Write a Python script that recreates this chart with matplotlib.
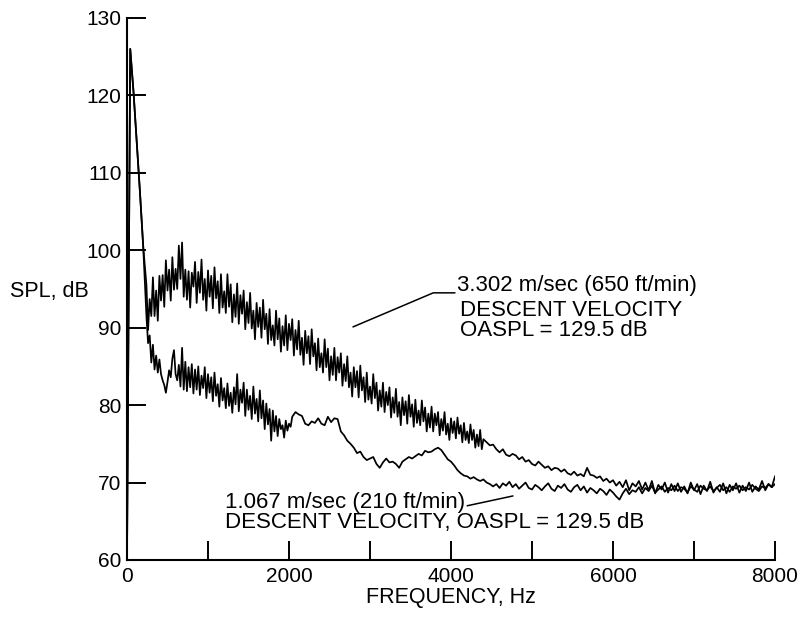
import matplotlib as mpl
mpl.use('Agg')
import matplotlib.pyplot as plt
import numpy as np

# Frequency grids (Hz): coarse at the tone peak, 20 Hz where the trace is a dense band, 40 Hz after
freq_fast = np.concatenate([np.arange(0, 240, 40), np.arange(240, 4400, 20), np.arange(4400, 8001, 40)])
freq_slow = np.concatenate([np.arange(0, 240, 40), np.arange(240, 2040, 20), np.arange(2040, 8001, 40)])

# SPL (dB), 3.302 m/sec (650 ft/min) descent velocity
spl_fast = [
    60.0, 126.0, 120.5, 114.0, 107.5, 100.5,
    # 240 - 4380 Hz
    95.5, 89.7, 93.7, 91.5, 96.5, 91.5, 94.8, 90.9, 96.7, 93.5,
    96.8, 92.7, 98.7, 94.8, 97.5, 93.5, 99.1, 94.9, 97.6, 95.0,
    100.6, 96.3, 101.0, 94.0, 97.5, 93.6, 97.3, 92.6, 97.1, 95.3,
    98.5, 93.2, 97.2, 94.5, 98.8, 93.6, 96.3, 92.2, 97.4, 94.0,
    96.7, 92.5, 97.8, 93.8, 96.0, 91.9, 96.9, 92.6, 94.7, 91.9,
    96.9, 92.7, 95.6, 90.7, 94.3, 91.4, 95.7, 90.5, 94.2, 91.8,
    94.8, 89.8, 93.3, 90.6, 94.5, 89.9, 92.2, 88.5, 93.2, 90.1,
    92.6, 88.7, 93.6, 89.8, 91.8, 87.9, 92.4, 88.4, 90.3, 87.7,
    92.2, 88.5, 91.2, 86.9, 90.2, 87.7, 91.6, 87.1, 90.5, 88.4,
    91.1, 86.4, 89.7, 87.2, 90.9, 86.5, 88.7, 85.2, 89.6, 86.7,
    88.9, 85.3, 89.8, 86.3, 88.0, 84.5, 88.6, 84.9, 86.7, 84.2,
    88.5, 84.9, 87.3, 83.2, 86.3, 83.9, 87.4, 83.2, 86.2, 84.2,
    86.7, 82.5, 85.3, 83.1, 86.3, 82.3, 84.2, 81.1, 84.9, 82.3,
    84.4, 81.0, 85.1, 81.9, 83.6, 80.4, 84.2, 80.7, 82.4, 80.2,
    84.0, 80.9, 82.9, 79.3, 81.9, 79.8, 82.9, 79.1, 81.7, 80.0,
    82.3, 78.4, 81.0, 79.0, 82.1, 78.5, 80.4, 77.4, 81.0, 78.7,
    80.5, 77.6, 81.3, 78.5, 80.1, 77.2, 80.7, 77.7, 79.3, 77.4,
    80.6, 77.9, 79.7, 76.6, 78.9, 77.1, 79.8, 76.6, 78.9, 77.4,
    79.1, 76.1, 78.2, 76.7, 79.1, 76.2, 77.6, 75.5, 78.3, 76.4,
    77.9, 75.7, 78.4, 76.3, 77.4, 75.2, 77.7, 75.5, 76.6, 75.1,
    77.5, 75.5, 76.8, 74.5, 76.2, 74.7, 76.8, 74.3,
    # 4400 - 8000 Hz
    75.6, 75.2, 74.8, 74.9, 74.3, 73.9, 74.3, 73.6, 73.4, 73.7,
    73.5, 73.0, 73.3, 72.7, 72.9, 72.4, 72.2, 72.7, 72.3, 71.9,
    72.1, 71.6, 71.9, 71.8, 71.4, 71.7, 71.2, 71.0, 71.4, 70.9,
    71.1, 70.8, 71.9, 71.0, 70.9, 70.6, 70.8, 70.2, 70.5, 70.0,
    70.3, 69.6, 70.1, 69.4, 70.3, 69.0, 69.9, 69.5, 70.2, 69.1,
    70.0, 69.0, 70.2, 68.6, 69.7, 69.1, 70.0, 68.7, 69.8, 68.9,
    69.9, 68.8, 69.5, 68.6, 70.0, 69.0, 69.8, 68.5, 69.6, 68.9,
    70.1, 68.7, 69.4, 68.8, 69.9, 68.6, 69.7, 69.0, 69.9, 68.7,
    69.6, 68.9, 70.0, 68.8, 69.5, 69.1, 70.2, 69.0, 69.8, 69.4,
    70.8,
]

# SPL (dB), 1.067 m/sec (210 ft/min) descent velocity
spl_slow = [
    60.0, 126.0, 120.5, 114.0, 107.5, 100.5,
    # 240 - 2020 Hz
    91.5, 88.0, 89.0, 85.5, 87.8, 84.6, 86.4, 84.2, 85.9, 84.0,
    83.2, 82.6, 81.6, 83.0, 84.5, 83.6, 86.0, 87.1, 84.0, 83.2,
    85.2, 82.4, 87.4, 82.0, 85.6, 81.8, 84.9, 82.3, 85.3, 81.5,
    84.6, 82.0, 85.0, 81.3, 83.8, 82.2, 84.9, 80.9, 84.0, 81.6,
    83.6, 80.5, 84.2, 81.2, 82.7, 79.8, 83.5, 80.6, 82.2, 79.6,
    82.8, 79.9, 81.6, 79.0, 82.3, 80.1, 84.0, 79.2, 82.0, 80.3,
    82.9, 78.6, 82.0, 79.4, 81.2, 78.2, 82.4, 78.9, 80.8, 77.9,
    81.9, 78.3, 80.6, 76.9, 80.2, 77.5, 79.5, 75.4, 79.3, 76.6,
    78.6, 76.0, 78.2, 76.9, 77.4, 75.8, 78.0, 76.7, 77.6, 77.2,
    # 2040 - 8000 Hz
    78.5, 79.1, 78.8, 78.6, 77.6, 77.4, 77.9, 77.7, 78.3,
    77.6, 77.4, 78.5, 77.8, 78.3, 78.2, 76.6, 76.1, 75.4, 75.0,
    74.5, 73.8, 74.0, 73.3, 72.9, 73.1, 73.3, 72.4, 71.9, 72.6,
    73.1, 72.6, 72.7, 72.4, 71.9, 72.7, 73.0, 73.3, 73.1, 73.4,
    73.7, 73.5, 74.1, 73.9, 74.0, 74.3, 74.5, 74.2, 73.6, 73.0,
    72.7, 72.2, 71.6, 71.2, 70.9, 70.8, 70.5, 70.7, 70.4, 70.2,
    70.4, 70.0, 69.8, 69.5, 69.8, 69.3, 69.9, 69.6, 70.1, 69.4,
    69.8, 69.2, 69.6, 70.0, 69.3, 69.1, 69.7, 69.4, 69.0, 69.5,
    69.9, 69.2, 68.9, 69.6, 69.3, 69.8, 69.1, 68.8, 69.4, 69.7,
    69.0, 69.5, 68.7, 69.3, 69.0, 68.6, 69.2, 68.9, 68.4, 69.1,
    68.7, 68.2, 67.8, 68.6, 69.2, 68.5, 69.0, 68.8, 69.4, 68.6,
    69.3, 68.9, 69.6, 68.7, 69.1, 69.5, 68.8, 69.3, 69.0, 69.6,
    68.9, 69.4, 69.2, 68.7, 69.5, 69.1, 68.8, 69.6, 69.2, 69.0,
    69.5, 68.9, 69.3, 69.7, 69.0, 69.4, 68.8, 69.5, 69.2, 69.6,
    69.0, 69.4, 69.1, 69.7, 69.2, 68.9, 69.5, 69.3, 69.8, 69.4,
    69.8,
]

major_ticks = [0, 2000, 4000, 6000, 8000]
minor_ticks = [1000, 3000, 5000, 7000]
y_ticks = [60, 70, 80, 90, 100, 110, 120, 130]

plt.rcParams['font.family'] = ['Liberation Sans', 'DejaVu Sans']
plt.rcParams['font.size'] = 15

fig = plt.figure(figsize=(8, 6.18), dpi=100)
ax = fig.add_axes([0.15875, 0.0939, 0.81, 0.877])

ax.plot(freq_fast, spl_fast, color='black', lw=1.25)
ax.plot(freq_slow, spl_slow, color='black', lw=1.25)

ax.set_xlim(0, 8000)
ax.set_ylim(60, 130)
ax.set_xticks(major_ticks)
ax.set_xticks(minor_ticks, minor=True)
ax.set_yticks(y_ticks)
ax.tick_params(which='both', direction='in', length=14, width=1.4, labelsize=15)
ax.tick_params(axis='x', pad=5)
ax.tick_params(axis='y', pad=4)

for side in ['top', 'right']:
    ax.spines[side].set_visible(False)
for side in ['left', 'bottom']:
    ax.spines[side].set_linewidth(1.5)

ax.set_xlabel('FREQUENCY, Hz', fontsize=15.5, labelpad=1)
ax.set_ylabel('SPL, dB', fontsize=15.5, rotation=0, ha='left', va='center')
ax.yaxis.set_label_coords(-0.181, 0.495)

# labels for the two curves
ax.text(4074, 94.74, '3.302 m/sec (650 ft/min)', fontsize=16, va='baseline')
ax.text(4110, 88.93, 'DESCENT VELOCITY\nOASPL = 129.5 dB', fontsize=16,
        va='baseline', linespacing=0.95)
ax.annotate('', xy=(2790, 90.1), xytext=(4049, 94.5),
            arrowprops=dict(arrowstyle='-', lw=1.1, shrinkA=0, shrinkB=0,
                            connectionstyle='angle,angleA=0,angleB=23,rad=0'))

ax.text(1215, 64.10, '1.067 m/sec (210 ft/min)\nDESCENT VELOCITY, OASPL = 129.5 dB',
        fontsize=16, va='baseline', linespacing=0.95)
ax.annotate('', xy=(4765, 68.27), xytext=(4200, 67.0),
            arrowprops=dict(arrowstyle='-', lw=1.1, shrinkA=0, shrinkB=0))

fig.savefig('out.png', dpi=100)
